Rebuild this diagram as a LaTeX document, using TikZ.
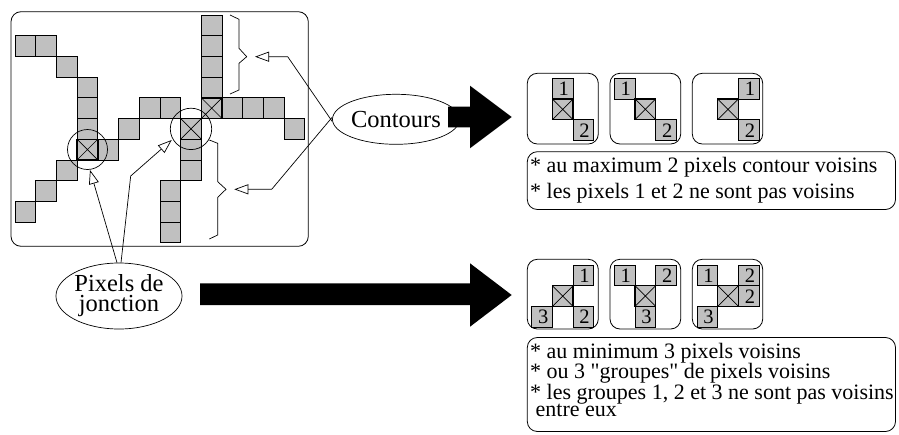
\documentclass[tikz,border=0pt]{standalone}
\usepackage{fontspec}
\newfontfamily\tnr{Liberation Serif}
\usetikzlibrary{arrows.meta,shapes.geometric}
\definecolor{pixgray}{RGB}{192,192,192}
\tikzset{
 pix/.style={fill=pixgray,draw=black,line width=0.7pt},
 xpixbox/.style={fill=pixgray,draw=black,line width=1.4pt},
 thin/.style={draw=black,line width=0.7pt},
 rbox/.style={draw=black,line width=0.8pt,rounded corners=10pt},
 conn/.style={draw=black,line width=0.7pt,-{Triangle[open,length=14pt,width=10pt]}},
 lbl/.style={ellipse,draw=black,line width=0.7pt,inner sep=0pt},
 bigarrow/.style={fill=black},
 num/.style={font=\tnr\fontsize{20.5}{20.5}\selectfont,inner sep=0pt},
 txt/.style={anchor=base west,inner sep=0pt,font=\tnr\fontsize{22}{22}\selectfont},
}
\newcommand\xcellat[2]{%
  \draw[xpixbox] (#1,#2) rectangle ++(20.7,20.7);
  \draw[thin] (#1,#2) -- ++(20.7,20.7) ++(0,-20.7) -- ++(-20.7,20.7);}
\newcommand\ncell[5]{%
  \draw[pix] ({#1+20.7*#3},{#2+20.7*#4}) rectangle ++(20.7,20.7);
  \node[num] at ({#1+20.7*#3+11.5},{#2+20.7*#4+10.6}) {#5};}
\newcommand\xcell[4]{\xcellat{#1+20.7*#3}{#2+20.7*#4}}
\begin{document}
\begin{tikzpicture}[x=1pt,y=-1pt]
\useasboundingbox (0,0) rectangle (899,434);
% ---------- left panel ----------
\draw[rbox] (11,11.7) rectangle (308.3,246.3);
\foreach \c/\r in {0/1,1/1,2/2,3/3,3/4,3/5,4/6,5/5,6/4,7/4,2/7,1/8,0/9,
  9/0,9/1,9/2,9/3,10/4,11/4,12/4,13/5,8/6,8/7,7/8,7/9,7/10}
  {\draw[pix] ({15+20.7*\c},{15+20.7*\r}) rectangle ++(20.7,20.7);}
\foreach \c/\r in {3/6,8/5,9/4}
  {\xcellat{15+20.7*\c}{15+20.7*\r}}
\draw[thin] (87.5,149.5) circle[radius=20pt];
\draw[thin] (191,128.9) circle[radius=20.7pt];
% braces
\draw[thin] (230,15) -- (239,19.3) -- (239,48.3) -- (246.7,56.7) -- (239,63.3) -- (239,90) -- (230,94);
\draw[thin] (209.3,140) -- (217.7,143.3) -- (217.7,181.7) -- (226,189.3) -- (217.7,197.3) -- (217.7,235) -- (209.3,239);
\coordinate (bu) at (255,56.7);
\coordinate (bl) at (234.3,189.3);
\coordinate (cu) at (287.7,56.7);
\coordinate (cl) at (271.7,189.3);
\coordinate (jl) at (90,170);
\coordinate (jr) at (171.7,140);
\coordinate (jm) at (130.7,176);
% ---------- labels ----------
\node[lbl,minimum width=100pt,minimum height=50pt,font=\tnr\fontsize{24.5}{24.5}\selectfont] (C) at (396,119.3) {Contours};
\node[lbl,minimum width=125pt,minimum height=66pt,font=\tnr\fontsize{24.5}{20}\selectfont,align=center] (J) at (119,296) {Pixels de\\jonction};
\draw[conn] ([yshift=-2pt]C.west) -- (cu) -- (bu);
\draw[conn] ([yshift=2pt]C.west) -- (cl) -- (bl);
\draw[conn] ([xshift=-2pt]J.north) -- (jl);
\draw[conn] ([xshift=2pt]J.north) -- (jm) -- (jr);
% ---------- big arrows ----------
\fill[bigarrow] (448,106.7) -- (470,106.7) -- (470,85.7) -- (511.7,117) -- (470,148.3) -- (470,127.3) -- (448,127.3) -- cycle;
\fill[bigarrow] (200,283.3) -- (470,283.3) -- (470,263.3) -- (511.7,295) -- (470,326.7) -- (470,305) -- (200,305) -- cycle;
% ---------- top right ----------
\draw[rbox] (527.3,73.3) rectangle (598.3,144);
\draw[rbox] (610,73.3) rectangle (680.7,144);
\draw[rbox] (692.3,73.3) rectangle (762.7,144);
\ncell{552.3}{78.3}{0}{0}{1}
\ncell{552.3}{78.3}{1}{2}{2}
\xcell{552.3}{78.3}{0}{1}
\ncell{614.3}{78.3}{0}{0}{1}
\ncell{614.3}{78.3}{2}{2}{2}
\xcell{614.3}{78.3}{1}{1}
\ncell{697}{78.3}{2}{0}{1}
\ncell{697}{78.3}{2}{2}{2}
\xcell{697}{78.3}{1}{1}
\draw[rbox] (527.3,151.7) rectangle (895.5,209.5);
\node[txt] (t1) at (530,172) {* au maximum 2 pixels contour voisins};
\node[txt] (t2) at (530,198.3) {* les pixels 1 et 2 ne sont pas voisins};
% ---------- bottom right ----------
\draw[rbox] (527.3,259.3) rectangle (598.3,329);
\draw[rbox] (610,259.3) rectangle (680.7,329);
\draw[rbox] (692.3,259.3) rectangle (762.7,329);
\ncell{531.7}{265}{2}{0}{1}
\ncell{531.7}{265}{0}{2}{3}
\ncell{531.7}{265}{2}{2}{2}
\xcell{531.7}{265}{1}{1}
\ncell{614.3}{265}{0}{0}{1}
\ncell{614.3}{265}{2}{0}{2}
\ncell{614.3}{265}{1}{2}{3}
\xcell{614.3}{265}{1}{1}
\ncell{697}{265}{0}{0}{1}
\ncell{697}{265}{2}{0}{2}
\ncell{697}{265}{2}{1}{2}
\ncell{697}{265}{0}{2}{3}
\xcell{697}{265}{1}{1}
\draw[rbox] (527.3,337.5) rectangle (895.5,431.5);
\node[txt] (b1) at (530,358.3) {* au minimum 3 pixels voisins};
\node[txt] (b2) at (530,378.5) {* ou 3 "groupes" de pixels voisins};
\node[txt] (b3) at (530,399) {* les groupes 1, 2 et 3 ne sont pas voisins};
\node[txt] (b4) at (535.5,416.5) {entre eux};
\end{tikzpicture}
\end{document}
